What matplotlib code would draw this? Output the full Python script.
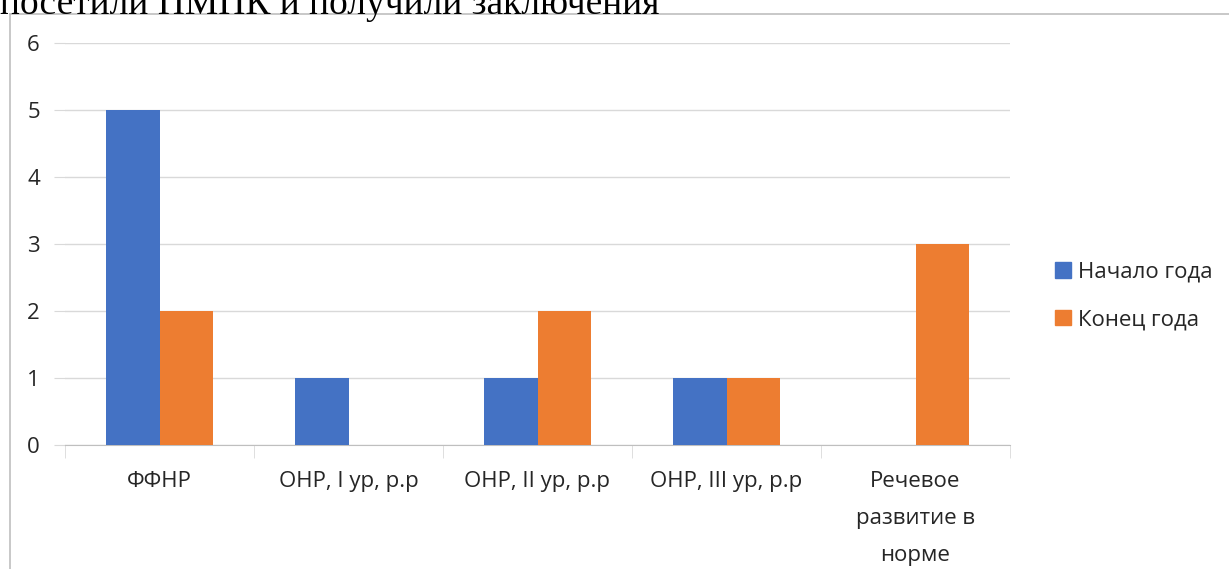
import numpy as np
import matplotlib.pyplot as plt
from matplotlib.lines import Line2D
from matplotlib.patches import Patch

categories = ['ФФНР', 'ОНР, I ур, р.р', 'ОНР, II ур, р.р', 'ОНР, III ур, р.р',
              'Речевое\nразвитие в\nнорме']
start_year = [5, 1, 1, 1, 0]
end_year = [2, 0, 2, 1, 3]
series_names = ['Начало года', 'Конец года']
yticks = [0, 1, 2, 3, 4, 5, 6]

blue = '#4472C4'
orange = '#ED7D31'
grid_col = '#d9d9d9'
text_col = '#262626'
font = ['Open Sans', 'DejaVu Sans']

fig = plt.figure(figsize=(12.29, 5.69), dpi=100)
ax = fig.add_axes([65/1229, 1-445/569, 945/1229, 402/569])

x = np.arange(len(categories))
w = 0.285
ax.bar(x - w/2, start_year, width=w, color=blue, zorder=3)
ax.bar(x + w/2, end_year, width=w, color=orange, zorder=3)

ax.set_xlim(-0.5, len(categories) - 0.5)
ax.set_ylim(0, 6)
ax.set_yticks(yticks)
ax.set_yticklabels([str(v) for v in yticks], fontsize=16, family=font, color=text_col)
ax.yaxis.grid(True, color=grid_col, linewidth=1, zorder=0)
ax.tick_params(axis='y', length=8, color=grid_col, pad=10)

ax.set_xticks(x)
ax.set_xticklabels(categories, fontsize=16, family=font, color=text_col, linespacing=2.0)
ax.tick_params(axis='x', which='major', length=0, pad=19)
ax.set_xticks(np.arange(-0.5, len(categories)), minor=True)
ax.tick_params(axis='x', which='minor', length=9, color=grid_col)

for s in ['top', 'right', 'left']:
    ax.spines[s].set_visible(False)
ax.spines['bottom'].set_color('#bfbfbf')

handles = [Patch(color=blue), Patch(color=orange)]
fig.legend(handles, series_names, loc='center left', bbox_to_anchor=(1035/1229, 1-296/569),
           frameon=False, prop={'family': font, 'size': 16}, handlelength=0.7, handleheight=0.7,
           handletextpad=0.35, labelspacing=1.2, labelcolor=text_col)

# chart frame (cropped)
fig.add_artist(Line2D([10/1229, 10/1229], [0, 1-14/569], color='#bfbfbf', lw=1.2))
fig.add_artist(Line2D([10/1229, 1], [1-14/569, 1-14/569], color='#bfbfbf', lw=1.2))

# cropped title line from the document above
fig.text(0.0, 1-14/569, 'посетили ПМПК и получили заключения', fontsize=27,
         family='Liberation Serif', va='baseline', ha='left', color='black')

fig.savefig('out.png', dpi=100)
